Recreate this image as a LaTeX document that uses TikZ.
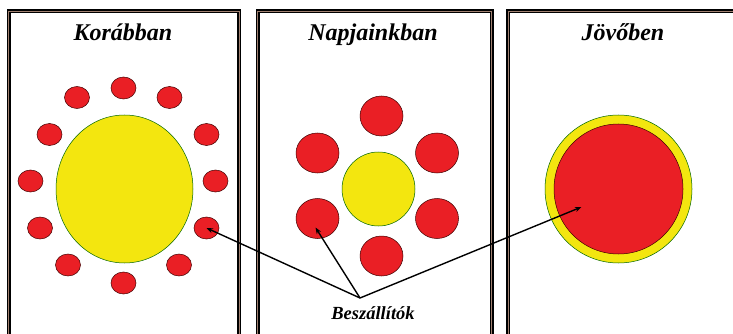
\documentclass[tikz,border=0pt]{standalone}
\usepackage{fontspec}
\setmainfont{Liberation Serif}
\usepackage{xcolor}
\usetikzlibrary{
    positioning,
    arrows.meta,
    shapes.geometric,
}
\definecolor{supplierred}{HTML}{EA1F25}
\definecolor{coreyellow}{HTML}{F3E60F}
\definecolor{framegap}{HTML}{A08070}
\tikzset{
    % Frame and title styles
    panel/.style={draw=black, line width=1.6pt, double=framegap, double distance=0.8pt},
    title/.style={anchor=base, font=\fontsize{24}{26}\selectfont\bfseries\itshape},
    % Circle styles
    supplier/.style={ellipse, draw=black!75!red, line width=0.5pt, fill=supplierred, inner sep=0pt},
    small supplier/.style={supplier, minimum width=25pt, minimum height=22pt},
    big supplier/.style={supplier, minimum width=43pt, minimum height=40pt},
    core/.style={ellipse, draw=black!60!green, line width=0.5pt, fill=coreyellow, inner sep=0pt},
    % Arrow styles
    arrow/.style={-{Stealth[length=6.5pt, width=5pt]}, line width=1.4pt},
    annot/.style={anchor=base, font=\fontsize{18.5}{20}\selectfont\bfseries\itshape},
}

\begin{document}
\begin{tikzpicture}[x=1pt, y=-1pt]
    \useasboundingbox (0,0) rectangle (733,334);
    \fill[white] (0,0) rectangle (733,334);
    \clip (0,0) rectangle (733,334);

    % Panels
    \draw[panel] (8.5,11.5) rectangle (239,345);
    \draw[panel] (257.5,11.5) rectangle (491.5,345);
    \draw[panel] (508,11.5) rectangle (745,345);

    % Titles
    \node[title] (past) at (123,40.5) {Korábban};
    \node[title] (now) at (373,40.5) {Napjainkban};
    \node[title] (future) at (623,40.5) {Jövőben};

    % Earlier: many small suppliers
    \node[core, minimum width=137pt, minimum height=148pt] (kcore) at (124.5,189) {};
    \foreach \n/\x/\y in {1/123.5/88, 2/77/97.5, 3/169.5/97.5, 4/49.5/134.5,
                          5/206.5/134.5, 6/30.5/181, 7/215.5/181, 8/40/228,
                          9/206.5/228, 10/68/265, 11/179/265, 12/123.5/283} {
        \node[small supplier] (k\n) at (\x,\y) {};
    }

    % Today: fewer, larger suppliers
    \node[core, minimum width=73pt, minimum height=74pt] (ncore) at (378.5,189) {};
    \foreach \n/\x/\y in {1/381.5/116, 2/317.5/153, 3/437/153,
                          4/317.5/218.5, 5/437/218.5, 6/381.5/256} {
        \node[big supplier] (n\n) at (\x,\y) {};
    }

    % Future: one supplier
    \node[core, minimum width=147pt, minimum height=148pt] (jcore) at (618.5,189) {};
    \node[supplier, minimum width=129pt, minimum height=130pt] (j1) at (618.5,189) {};

    % Label and arrows
    \node[annot] (label) at (373,319) {Beszállítók};
    \coordinate (apex) at (360,298);
    \draw[arrow] (apex) -- (k9.center);
    \draw[arrow] (apex) -- ([xshift=-2pt, yshift=-9pt]n4.center);
    \draw[arrow] (apex) -- ([xshift=-37pt, yshift=-18pt]j1.center);
\end{tikzpicture}
\end{document}
